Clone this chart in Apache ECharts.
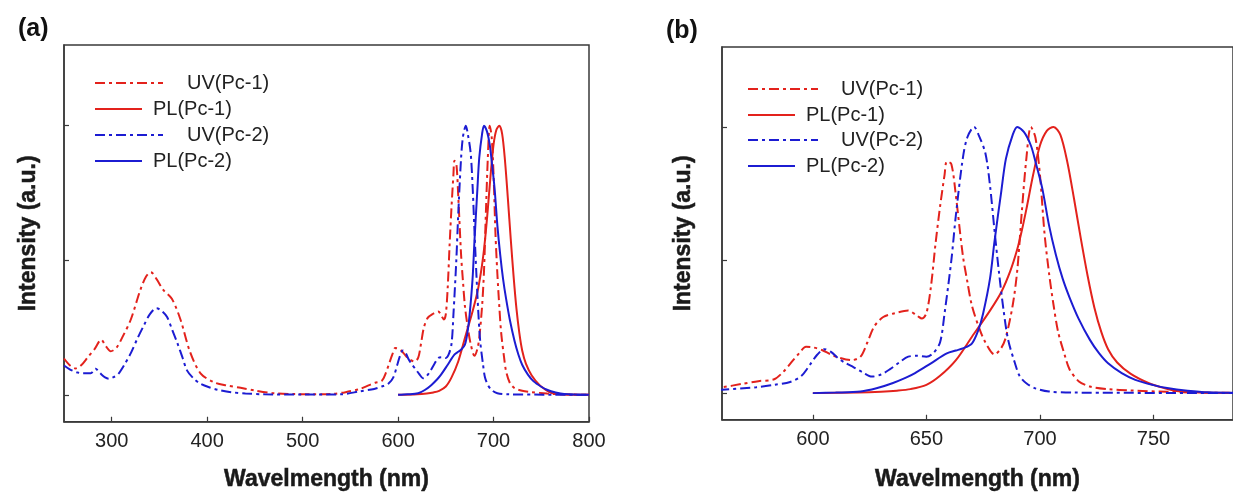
<!DOCTYPE html>
<html><head><meta charset="utf-8">
<script src="https://cdn.jsdelivr.net/npm/echarts@6/dist/echarts.min.js"></script>
<style>html,body{margin:0;padding:0;background:#fff}#c{width:1233px;height:496px}</style>
</head><body><div id="c"></div>
<script>
// ---- data (wavelength in nm, normalized intensity) ----
const seriesNames = ['UV(Pc-1)', 'PL(Pc-1)', 'UV(Pc-2)', 'PL(Pc-2)'];

const uv1Wl = [250,256,262,268,275,282,289,294,299,305,312,320,330,336,341,347,354,363,372,382,393,407,420,435,450,470,490,510,530,545,560,569,576,583,587,590,594,597,600,604,608,612,617,621,624,627,631,636,642,646,648,650,652,654,656,658,659,661,663,666,668,670,673,676,680,683,685,688,690,692,694,696,698,700,702,704,706,708,711,713,717,722,730,740,756,770,800];
const uv1Int = [0.135,0.11,0.098,0.11,0.14,0.17,0.205,0.18,0.162,0.175,0.22,0.28,0.39,0.44,0.456,0.43,0.39,0.357,0.28,0.16,0.08,0.047,0.035,0.026,0.016,0.006,0.003,0.002,0.003,0.01,0.022,0.035,0.045,0.052,0.08,0.11,0.15,0.174,0.172,0.162,0.145,0.132,0.124,0.137,0.19,0.25,0.286,0.3,0.31,0.29,0.28,0.3,0.4,0.56,0.7,0.82,0.87,0.86,0.74,0.52,0.42,0.33,0.25,0.19,0.145,0.17,0.21,0.33,0.46,0.68,0.88,1.0,0.96,0.82,0.6,0.45,0.33,0.23,0.14,0.09,0.045,0.025,0.015,0.01,0.005,0.002,0];

const uv2Wl = [250,256,263,270,278,283,288,293,297,302,307,313,320,327,334,340,347,353,358,363,369,374,379,386,393,402,411,425,440,460,500,540,560,575,583,590,595,599,602,605,608,611,614,618,622,626,630,634,638,642,646,650,653,656,658,661,663,666,668,671,673,676,678,680,682,684,686,689,691,694,698,704,715,800];
const uv2Int = [0.109,0.095,0.084,0.08,0.08,0.097,0.08,0.065,0.06,0.066,0.078,0.11,0.155,0.21,0.26,0.3,0.322,0.31,0.289,0.245,0.19,0.14,0.09,0.06,0.041,0.028,0.019,0.01,0.005,0.002,0.001,0.002,0.013,0.022,0.031,0.042,0.065,0.11,0.145,0.165,0.155,0.132,0.115,0.097,0.078,0.062,0.07,0.09,0.115,0.137,0.14,0.137,0.15,0.19,0.3,0.5,0.67,0.88,0.96,1.0,0.97,0.9,0.78,0.61,0.45,0.31,0.2,0.112,0.065,0.037,0.018,0.006,0.002,0];

const pl1Wl = [600,620,630,637,643,650,656,663,670,678,683,687,690,692,694,697,700,703,706,709,712,715,718,721,724,727,730,734,740,748,755,760,770,800];
const pl1Int = [0,0.002,0.005,0.009,0.015,0.031,0.065,0.124,0.211,0.31,0.38,0.46,0.54,0.61,0.69,0.82,0.93,0.985,1.0,0.97,0.87,0.73,0.58,0.44,0.32,0.23,0.165,0.115,0.072,0.037,0.018,0.008,0.002,0];

const pl2Wl = [600,610,621,628,635,641,645,652,659,663,666,670,673,675,678,680,683,685,688,690,693,696,698,701,704,707,710,713,717,722,726,730,736,742,750,756,765,774,800];
const pl2Int = [0,0.002,0.006,0.018,0.037,0.058,0.075,0.112,0.149,0.16,0.168,0.186,0.24,0.3,0.43,0.571,0.76,0.88,0.97,1.0,0.98,0.93,0.87,0.77,0.63,0.52,0.43,0.36,0.28,0.2,0.15,0.112,0.075,0.05,0.03,0.019,0.009,0.003,0];

const xTicksA = [300, 400, 500, 600, 700, 800];
const xTicksB = [600, 650, 700, 750];
const yTicks = [0, 0.5, 1.0];
const panelLabels = ['(a)', '(b)'];
const xTitle = 'Wavelmength (nm)';
const yTitle = 'Intensity (a.u.)';

// ---- styles ----
const RED = '#e3221c', BLUE = '#1c1cd2';
const DASHDOT = [10, 4, 3, 4];
const FONT = "'Liberation Sans', Arial, Helvetica, sans-serif";
const AXIS_COLOR = '#3a3a3a';

const curves = [
  { name: seriesNames[0], wl: uv1Wl, val: uv1Int, color: RED, type: DASHDOT },
  { name: seriesNames[1], wl: pl1Wl, val: pl1Int, color: RED, type: 'solid' },
  { name: seriesNames[2], wl: uv2Wl, val: uv2Int, color: BLUE, type: DASHDOT },
  { name: seriesNames[3], wl: pl2Wl, val: pl2Int, color: BLUE, type: 'solid' }
];

const pairs = (w, v) => w.map((x, i) => [x, v[i]]);

const series = [];
[0, 1].forEach(g => {
  curves.forEach(c => {
    series.push({
      type: 'line', name: c.name, xAxisIndex: g, yAxisIndex: g,
      data: pairs(c.wl, c.val), symbol: 'none', smooth: 0.3,
      clip: true, animation: false,
      lineStyle: { color: c.color, width: 2, type: c.type },
      itemStyle: { color: c.color }
    });
  });
});

const titleStyle = { fontFamily: FONT, fontWeight: 'bold', fontSize: 23, color: '#1a1a1a', textBorderColor: '#1a1a1a', textBorderWidth: 0.5 };

function xAxis(g, min, max, ticks, gap) {
  return {
    type: 'value', gridIndex: g, min: min, max: max,
    name: xTitle, nameLocation: 'middle', nameGap: gap,
    nameTextStyle: titleStyle,
    axisLine: { show: true, onZero: false, lineStyle: { color: AXIS_COLOR, width: 1.5 } },
    axisTick: { show: true, inside: true, length: 5, customValues: ticks, lineStyle: { color: AXIS_COLOR, width: 1.2 } },
    axisLabel: { show: true, customValues: ticks, margin: 10, fontFamily: FONT, fontSize: 20, color: '#222' },
    splitLine: { show: false }
  };
}
function yAxis(g, gap) {
  return {
    type: 'value', gridIndex: g, min: -0.1, max: 1.3,
    name: yTitle, nameLocation: 'middle', nameGap: gap,
    nameTextStyle: titleStyle,
    axisLine: { show: true, onZero: false, lineStyle: { color: AXIS_COLOR, width: 1.5 } },
    axisTick: { show: true, inside: true, length: 5, customValues: yTicks, lineStyle: { color: AXIS_COLOR, width: 1.2 } },
    axisLabel: { show: false },
    splitLine: { show: false }
  };
}

function legendItem(name, left, cy, w, padLeft) {
  return {
    data: [name], left: left, top: cy - 10, orient: 'vertical', padding: 0,
    itemWidth: w, itemHeight: 14, selectedMode: false,
    itemStyle: { opacity: 0, borderWidth: 0 },
    textStyle: { fontFamily: FONT, fontSize: 20, color: '#222', padding: [0, 0, 0, padLeft] }
  };
}

const option = {
  backgroundColor: '#fff',
  animation: false,
  title: [
    { text: panelLabels[0], left: 18, top: 17, padding: 0, textStyle: { fontFamily: FONT, fontWeight: 'bold', fontSize: 25, color: '#111' } },
    { text: panelLabels[1], left: 666, top: 19, padding: 0, textStyle: { fontFamily: FONT, fontWeight: 'bold', fontSize: 25, color: '#111' } }
  ],
  grid: [
    { left: 64, right: 1233 - 589, top: 45, bottom: 496 - 422, show: true, borderColor: AXIS_COLOR, borderWidth: 1.5, backgroundColor: 'transparent' },
    { left: 722, right: 0, top: 47, bottom: 496 - 423, show: true, borderColor: AXIS_COLOR, borderWidth: 1.5, backgroundColor: 'transparent' }
  ],
  xAxis: [xAxis(0, 250, 800, xTicksA, 46), xAxis(1, 560, 785, xTicksB, 48)],
  yAxis: [yAxis(0, 24), yAxis(1, 27)],
  legend: [
    legendItem(seriesNames[0], 94, 83, 68, 19),
    legendItem(seriesNames[1], 94, 109, 47, 6),
    legendItem(seriesNames[2], 94, 135, 68, 19),
    legendItem(seriesNames[3], 94, 161, 47, 6),
    legendItem(seriesNames[0], 747, 89, 70, 18),
    legendItem(seriesNames[1], 747, 115, 47, 6),
    legendItem(seriesNames[2], 747, 140, 70, 18),
    legendItem(seriesNames[3], 747, 166, 47, 6)
  ],
  series: series
};

const chart = echarts.init(document.getElementById('c'), null, { renderer: 'canvas' });
chart.setOption(option);
</script>
</body></html>
